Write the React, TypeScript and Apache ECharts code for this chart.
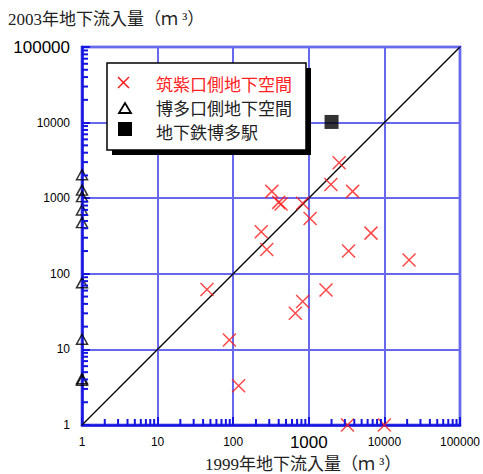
import React, { useEffect, useRef } from "react";
import * as echarts from "echarts";

const chikushiData: number[][] = [
  [45, 62], [89, 13.3], [118, 3.3], [2520, 2950], [1960, 1520], [3800, 1230],
  [324, 1230], [400, 880], [430, 840], [830, 855], [1040, 540], [235, 360],
  [6650, 345], [278, 210], [3360, 200], [21200, 152], [1690, 61], [830, 43],
  [664, 30], [3250, 1], [10000, 1],
];
const hakataData: number[][] = [
  [1, 2040], [1, 1280], [1, 1050], [1, 700], [1, 475], [1, 76], [1, 13.6], [1, 4.1], [1, 3.9],
];
const stationData: number[][] = [[2000, 10200]];
const diagonal: number[][] = [[1, 1], [100000, 100000]];
const minorTickValues: number[] = [
  2, 3, 4, 5, 6, 7, 8, 9,
  20, 30, 40, 50, 60, 70, 80, 90,
  200, 300, 400, 500, 600, 700, 800, 900,
  2000, 3000, 4000, 5000, 6000, 7000, 8000, 9000,
  20000, 30000, 40000, 50000, 60000, 70000, 80000, 90000,
];
const legendNames = ["筑紫口側地下空間", "博多口側地下空間", "地下鉄博多駅"];
const yTitle = "2003年地下流入量（ｍ ³）";
const xTitle = "1999年地下流入量（ｍ ³）";

const BLUE = "#1414e0";
const GRIDBLUE = "rgb(104,104,236)";
const CJK = "'Liberation Serif', 'Noto Sans CJK JP', serif";
const SANS = "'Liberation Sans', Arial, sans-serif";
const GOTHIC = "'Noto Sans CJK JP', sans-serif";

export default function App() {
  const ref = useRef<HTMLDivElement>(null);
  useEffect(() => {
    if (!ref.current) return;
    const chart = echarts.init(ref.current, undefined, { renderer: "svg" });
    const crossPath = "path://M0,0L10,10M10,0L0,10";

    const tickItems: any[] = [];
    for (let i = 0; i < minorTickValues.length; i++) {
      const v = minorTickValues[i];
      tickItems.push({ value: [v, 1], symbolSize: [2, 6], symbolOffset: [0, -3] });
      tickItems.push({ value: [1, v], symbolSize: [6, 2], symbolOffset: [3, 0] });
    }

    chart.setOption({
      animation: false,
      grid: {
        left: 82, top: 47, right: 22, bottom: 49,
        show: true, borderColor: BLUE, borderWidth: 2.5, backgroundColor: "transparent",
      },
      xAxis: {
        type: "log", logBase: 10, min: 1, max: 100000,
        axisLine: { lineStyle: { color: BLUE, width: 2.5 } },
        axisTick: { inside: true, length: 8, lineStyle: { color: BLUE, width: 2 } },
        splitLine: { show: true, lineStyle: { color: GRIDBLUE, width: 2 } },
        axisLabel: {
          margin: 17, verticalAlign: "middle", color: "#000", fontFamily: SANS, fontSize: 12,
          formatter: (v: number) => (Math.round(v) === 1000 ? "{b|1000}" : String(Math.round(v))),
          rich: { b: { fontSize: 17, fontFamily: SANS, color: "#000" } },
        },
      },
      yAxis: {
        type: "log", logBase: 10, min: 1, max: 100000,
        axisLine: { lineStyle: { color: BLUE, width: 2.5 } },
        axisTick: { inside: true, length: 8, lineStyle: { color: BLUE, width: 2 } },
        splitLine: { show: true, lineStyle: { color: GRIDBLUE, width: 2 } },
        axisLabel: {
          margin: 12, color: "#000", fontFamily: SANS, fontSize: 12,
          formatter: (v: number) => (Math.round(v) === 100000 ? "{b|100000}" : String(Math.round(v))),
          rich: { b: { fontSize: 17, fontFamily: SANS, color: "#000" } },
        },
      },
      series: [
        {
          name: "ticks",
          type: "scatter",
          data: tickItems,
          symbol: "rect",
          itemStyle: { color: BLUE, opacity: 1 },
          clip: false,
          z: 10,
        },
        {
          type: "line",
          data: diagonal,
          showSymbol: false,
          lineStyle: { color: "#000", width: 1.3 },
          z: 3,
        },
        {
          name: legendNames[0],
          type: "scatter",
          data: chikushiData,
          symbol: crossPath,
          symbolSize: 13,
          itemStyle: { color: "none", borderColor: "#ff1a1a", borderWidth: 1.5 },
          z: 5,
        },
        {
          name: legendNames[1],
          type: "scatter",
          data: hakataData,
          symbol: "triangle",
          symbolSize: [11, 10],
          itemStyle: { color: "rgba(255,255,255,0)", borderColor: "#000", borderWidth: 1.5 },
          z: 5,
        },
        {
          name: legendNames[2],
          type: "scatter",
          data: stationData,
          symbol: "rect",
          symbolSize: 14,
          itemStyle: { color: "#000" },
          z: 5,
        },
      ],
      graphic: [
        { type: "rect", shape: { x: 112, y: 68, width: 199, height: 87 }, style: { fill: "#000" }, z: 100 },
        { type: "rect", shape: { x: 107, y: 63, width: 199, height: 87 }, style: { fill: "#fff", stroke: "#000", lineWidth: 1.5 }, z: 101 },
        { type: "line", shape: { x1: 118, y1: 77, x2: 129, y2: 88 }, style: { stroke: "#ff1a1a", lineWidth: 1.5 }, z: 102 },
        { type: "line", shape: { x1: 129, y1: 77, x2: 118, y2: 88 }, style: { stroke: "#ff1a1a", lineWidth: 1.5 }, z: 102 },
        { type: "polygon", shape: { points: [[125, 103], [131, 113], [119, 113]] }, style: { fill: "#fff", stroke: "#000", lineWidth: 1.8 }, z: 102 },
        { type: "rect", shape: { x: 118, y: 122, width: 14, height: 14 }, style: { fill: "#000" }, z: 102 },
        { type: "text", x: 156, y: 83, style: { text: legendNames[0], fill: "#ff2222", font: `17px ${GOTHIC}`, lineHeight: 17, verticalAlign: "middle" }, z: 102 },
        { type: "text", x: 156, y: 107, style: { text: legendNames[1], fill: "#222", font: `17px ${GOTHIC}`, lineHeight: 17, verticalAlign: "middle" }, z: 102 },
        { type: "text", x: 156, y: 131, style: { text: legendNames[2], fill: "#222", font: `17px ${GOTHIC}`, lineHeight: 17, verticalAlign: "middle" }, z: 102 },
        { type: "text", x: 8, y: 19, style: { text: yTitle, fill: "#222", font: `17px ${CJK}`, verticalAlign: "middle" }, z: 102 },
        { type: "text", x: 205, y: 464, style: { text: xTitle, fill: "#222", font: `17px ${CJK}`, verticalAlign: "middle" }, z: 102 },
      ],
    });

    return () => chart.dispose();
  }, []);
  return <div ref={ref} style={{ width: 483, height: 474, position: "absolute", left: 0, top: 0 }} />;
}
